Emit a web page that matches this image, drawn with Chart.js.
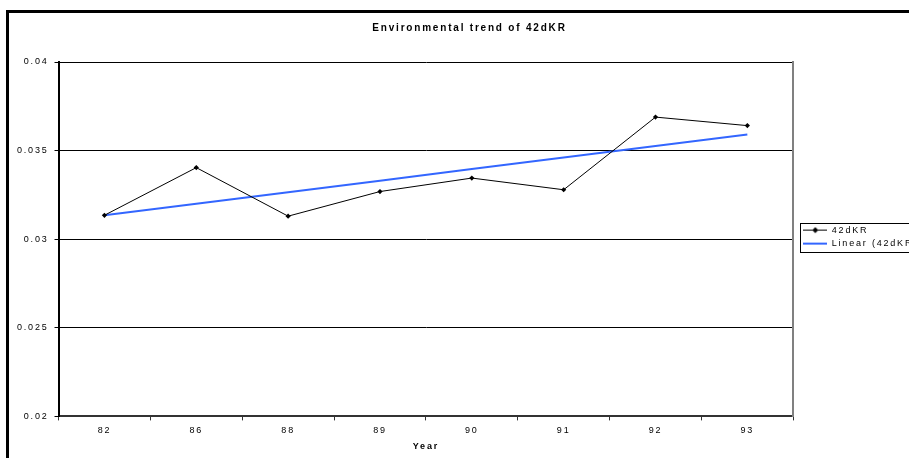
<!DOCTYPE html>
<html>
<head>
<meta charset="utf-8">
<script src="https://cdn.jsdelivr.net/npm/chart.js@4"></script>
<style>
  html, body { margin: 0; padding: 0; background: #fff; overflow: hidden; }
  #frame {
    position: absolute; left: 6px; top: 10px; width: 1000px; height: 500px;
    border-left: 3px solid #000; border-top: 3px solid #000;
  }
  #wrap { position: absolute; left: 9px; top: 13px; width: 919px; height: 445px; }
</style>
</head>
<body>
<div id="frame"></div>
<div id="wrap"><canvas id="chart"></canvas></div>
<script>
const years = ['82', '86', '88', '89', '90', '91', '92', '93'];
const values42dKR = [0.03135, 0.03404, 0.03130, 0.03269, 0.03345, 0.03279, 0.03689, 0.03641];
const trendValues = [0.03135, 0.03200, 0.03265, 0.03330, 0.03396, 0.03461, 0.03526, 0.03591];
const yTicks = [0.02, 0.025, 0.03, 0.035, 0.04];

const FONT = 'Liberation Sans, Arial, sans-serif';
const BLUE = '#3366ff';

// legend symbols: line (+ diamond marker)
function makeSymbol(color, width, marker) {
  const c = document.createElement('canvas');
  c.width = 24;
  c.height = 8;
  const g = c.getContext('2d');
  g.strokeStyle = color;
  g.lineWidth = width;
  g.beginPath();
  g.moveTo(0, width === 1 ? 3.5 : 4);
  g.lineTo(24, width === 1 ? 3.5 : 4);
  g.stroke();
  if (marker) {
    g.fillStyle = color;
    g.beginPath();
    g.moveTo(12, 0.5);
    g.lineTo(15, 3.5);
    g.lineTo(12, 6.5);
    g.lineTo(9, 3.5);
    g.closePath();
    g.fill();
  }
  return c;
}
const symbols = [makeSymbol('#000', 1, true), makeSymbol(BLUE, 2, false)];

const spacing = {
  id: 'spacing',
  beforeLayout(chart) { chart.ctx.letterSpacing = '1.8px'; },
  beforeDraw(chart) { chart.ctx.letterSpacing = '1.8px'; },
};

// border round the legend
const legendBox = {
  id: 'legendBox',
  afterDraw(chart) {
    const boxes = chart.legend.legendHitBoxes;
    if (!boxes || !boxes.length) return;
    const left = Math.min(...boxes.map((b) => b.left)) - 3.5;
    const top = Math.min(...boxes.map((b) => b.top)) - 3.5;
    const bottom = Math.max(...boxes.map((b) => b.top + b.height)) + 3.5;
    const ctx = chart.ctx;
    ctx.save();
    ctx.strokeStyle = '#000';
    ctx.lineWidth = 1;
    ctx.strokeRect(Math.round(left) + 0.5, Math.round(top) + 0.5, chart.width, Math.round(bottom - top));
    ctx.restore();
  },
};

new Chart(document.getElementById('chart'), {
  type: 'line',
  data: {
    labels: years,
    datasets: [
      {
        label: '42dKR',
        data: values42dKR,
        borderColor: '#000',
        backgroundColor: '#000',
        borderWidth: 1,
        pointStyle: 'rectRot',
        pointRadius: 2.6,
        pointBorderWidth: 0,
        tension: 0,
        yAxisID: 'y',
      },
      {
        label: 'Linear (42dKR)',
        data: trendValues,
        borderColor: BLUE,
        backgroundColor: BLUE,
        borderWidth: 2,
        pointRadius: 0,
        tension: 0,
        yAxisID: 'y',
      },
    ],
  },
  options: {
    responsive: true,
    maintainAspectRatio: false,
    animation: false,
    layout: { padding: { left: 2, right: 0, top: 0, bottom: 6 } },
    plugins: {
      title: {
        display: true,
        text: 'Environmental trend of 42dKR',
        color: '#000',
        font: { family: FONT, size: 10, weight: 'bold' },
        padding: { top: 9, bottom: 28 },
      },
      legend: {
        position: 'right',
        title: { display: true, text: '', font: { size: 1 }, padding: { top: 4, bottom: 4 } },
        labels: {
          color: '#000',
          font: { family: FONT, size: 9 },
          usePointStyle: true,
          pointStyleWidth: 24,
          padding: 4,
          generateLabels: (chart) => chart.data.datasets.map((ds, i) => ({
            text: ds.label,
            pointStyle: symbols[i],
            fontColor: '#000',
            fillStyle: 'transparent',
            strokeStyle: 'transparent',
            lineWidth: 0,
            hidden: false,
            datasetIndex: i,
          })),
        },
      },
      tooltip: { enabled: false },
    },
    scales: {
      x: {
        offset: true,
        grid: { offset: true, drawOnChartArea: false, drawTicks: true, tickLength: 4, color: '#333' },
        border: { color: '#333', width: 2 },
        ticks: { color: '#000', font: { family: FONT, size: 9 }, padding: 5, maxRotation: 0 },
        title: {
          display: true,
          text: 'Year',
          color: '#000',
          font: { family: FONT, size: 9, weight: 'bold' },
          padding: { top: 0, bottom: 0 },
        },
      },
      y: {
        min: yTicks[0],
        max: yTicks[yTicks.length - 1],
        afterBuildTicks: (scale) => { scale.ticks = yTicks.map((v) => ({ value: v })); },
        grid: { color: '#000', lineWidth: 1, tickLength: 4 },
        border: { color: '#000', width: 2 },
        ticks: {
          color: '#000',
          font: { family: FONT, size: 9 },
          padding: 6,
          callback: (v) => String(+Number(v).toFixed(3)),
        },
      },
      frameRight: {
        position: 'right',
        min: 0,
        max: 1,
        grid: { drawOnChartArea: false, drawTicks: true, tickLength: 6, color: 'transparent' },
        border: { color: '#808080', width: 2 },
        ticks: { display: false },
      },
    },
  },
  plugins: [spacing, legendBox],
});
</script>
</body>
</html>
